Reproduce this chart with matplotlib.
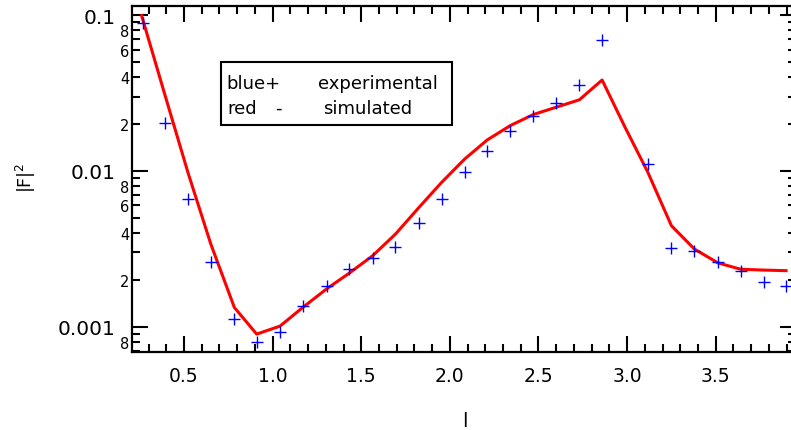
import numpy as np
import matplotlib
matplotlib.use("Agg")
import matplotlib.pyplot as plt
from matplotlib.ticker import FixedLocator, MultipleLocator, FuncFormatter, LogLocator
from matplotlib.patches import Rectangle

# experimental points (blue +)
exp_l = [0.267, 0.391, 0.523, 0.651, 0.784, 0.910, 1.042, 1.170, 1.305, 1.433,
         1.565, 1.693, 1.824, 1.954, 2.083, 2.211, 2.340, 2.471, 2.599, 2.731,
         2.859, 3.117, 3.250, 3.380, 3.512, 3.640, 3.770, 3.897]
exp_f2 = [0.089, 0.0202, 0.0066, 0.00259, 0.00112, 0.000794, 0.00092, 0.00135, 0.00183, 0.00235,
          0.00276, 0.00327, 0.00464, 0.0066, 0.0098, 0.01343, 0.01803, 0.0226, 0.0273, 0.0356,
          0.0695, 0.01112, 0.00318, 0.00308, 0.00261, 0.00229, 0.00193, 0.00182]

# simulated curve (red line)
sim_l = [0.261, 0.391, 0.523, 0.651, 0.784, 0.910, 1.042, 1.170, 1.305, 1.433,
         1.565, 1.693, 1.824, 1.954, 2.083, 2.211, 2.340, 2.471, 2.599, 2.731,
         2.859, 2.988, 3.117, 3.250, 3.380, 3.512, 3.640, 3.770, 3.897]
sim_f2 = [0.0991, 0.0311, 0.0097, 0.0034, 0.00133, 0.000897, 0.00101, 0.00133, 0.00175, 0.00221,
          0.00286, 0.00393, 0.0058, 0.00845, 0.0119, 0.0158, 0.0195, 0.023, 0.0256, 0.0286,
          0.0383, 0.0191, 0.0098, 0.00445, 0.00315, 0.00257, 0.00234, 0.00231, 0.00229]

major_y = [0.001, 0.01, 0.1]
major_y_labels = ["0.001", "0.01", "0.1"]

W, H = 791, 431
fig = plt.figure(figsize=(W / 100, H / 100), dpi=100)
# axes box in pixels: left 132, right 796 (just past the image edge), top 7, bottom 353
ax = fig.add_axes([132 / W, 1 - 353 / H, (796 - 132) / W, (353 - 7) / H])

ax.plot(sim_l, sim_f2, color="#ff0000", lw=2.2, zorder=3)
ax.plot(exp_l, exp_f2, ls="none", marker="+", ms=9, mew=1.0, color="#0000ff", zorder=4)

ax.set_yscale("log")
ax.set_xlim(0.2066, 3.953)
ax.set_ylim(10 ** -3.162, 10 ** -0.942)

# ticks
ax.xaxis.set_major_locator(MultipleLocator(0.5))
ax.xaxis.set_minor_locator(MultipleLocator(0.1))
ax.xaxis.set_major_formatter(FuncFormatter(lambda v, p: f"{v:.1f}"))

ax.yaxis.set_major_locator(FixedLocator(major_y))
ax.yaxis.set_major_formatter(FuncFormatter(
    lambda v, p: major_y_labels[major_y.index(min(major_y, key=lambda m: abs(np.log10(m) - np.log10(v))))]))
ax.yaxis.set_minor_locator(LogLocator(base=10, subs=np.arange(2, 10), numticks=12))


def minor_label(v, pos):
    m = int(round(v / 10 ** np.floor(np.log10(v) + 1e-9)))
    return str(m) if m in (2, 4, 6, 8) else ""


ax.yaxis.set_minor_formatter(FuncFormatter(minor_label))

ax.tick_params(which="both", direction="in", top=True, right=True, width=1.5, colors="black")
ax.tick_params(which="major", length=11.5)
ax.tick_params(which="minor", length=5.8)
ax.tick_params(axis="x", which="major", labelsize=13.5, pad=10)
ax.tick_params(axis="y", which="major", labelsize=14.5, pad=12)
ax.tick_params(axis="y", which="minor", labelsize=10.5, pad=2)

for s in ax.spines.values():
    s.set_linewidth(1.6)
# the right frame line sits just outside the picture
ax.spines["right"].set_visible(False)

ax.set_ylabel("|F|$^2$", fontsize=12.5)
ax.yaxis.set_label_coords(-0.1416, 0.506)
ax.set_xlabel("l", fontsize=14)
ax.xaxis.set_label_coords(0.5015, -0.17)

# legend box drawn by hand, like the original
ax.add_patch(Rectangle((0.1336, 0.6561), 0.4824 - 0.1336, 0.8373 - 0.6561,
                       transform=ax.transAxes, fill=True, facecolor="white",
                       edgecolor="black", lw=1.5, zorder=5))
txt = dict(fontsize=13, va="baseline", ha="left", zorder=6)
fig.text(226.7 / W, 1 - 89 / H, "blue+", **txt)
fig.text(318 / W, 1 - 89 / H, "experimental", **txt)
fig.text(227 / W, 1 - 114 / H, "red", **txt)
fig.text(275 / W, 1 - 114 / H, "-", **txt)
fig.text(323 / W, 1 - 114 / H, "simulated", **txt)

fig.savefig("out.png", dpi=100)
